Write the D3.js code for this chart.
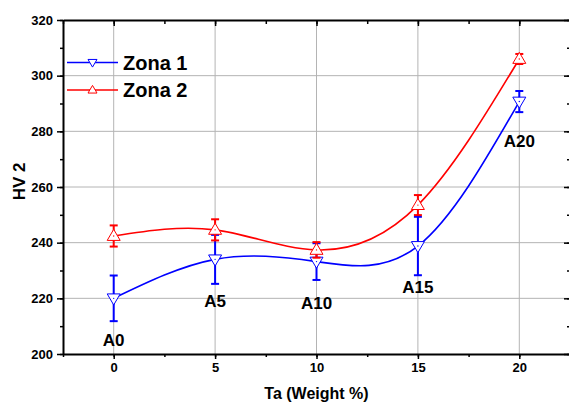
<!DOCTYPE html>
<html>
<head>
<meta charset="utf-8">
<script src="https://cdn.jsdelivr.net/npm/d3@7"></script>
<style>
  body { margin: 0; background: #fff; }
  text { font-family: "Liberation Sans", Arial, sans-serif; font-weight: bold; }
  .grid line { stroke: #b4b4b4; stroke-width: 1; }
  .axis path, .axis line { stroke: #000; }
  .axis path { stroke-width: 2; }
</style>
</head>
<body>
<div id="chart"></div>
<script>
// data
var taWeight = [0, 5, 10, 15, 20];
var sampleLabels = ["A0", "A5", "A10", "A15", "A20"];
var zona1 = [220.0, 234.0, 233.2, 238.8, 290.7];
var zona1Err = [8.2, 8.8, 6.6, 10.5, 3.8];
var zona2 = [242.4, 244.6, 237.4, 253.5, 306.0];
var zona2Err = [3.8, 3.8, 2.8, 3.6, 1.8];
var labelY = [203.0, 217.0, 216.0, 222.0, 274.2]; // value position of sample labels (baseline)
var xTicks = [0, 5, 10, 15, 20];
var yTicks = [200, 220, 240, 260, 280, 300, 320];

var outerWidth = 569, outerHeight = 403;
var margin = {top: 20, right: -1, bottom: 49, left: 63},
    width = outerWidth - margin.left - margin.right,
    height = outerHeight - margin.top - margin.bottom;

var svg = d3.select("#chart").append("svg")
    .attr("width", outerWidth)
    .attr("height", outerHeight)
    .append("g")
    .attr("transform", "translate(" + margin.left + "," + margin.top + ")");

var xScale = d3.scaleLinear().domain([-2.5, 22.5]).range([0, width]);
var yScale = d3.scaleLinear().domain([200, 320]).range([height, 0]);

var minorX = d3.range(-2.5, 22.6, 2.5);
var minorY = d3.range(200, 321, 10);

// grid
svg.append("g").attr("class", "grid")
    .selectAll("line").data(xTicks).enter().append("line")
    .attr("x1", d => xScale(d)).attr("x2", d => xScale(d))
    .attr("y1", 0).attr("y2", height);
svg.append("g").attr("class", "grid")
    .selectAll("line").data(yTicks.slice(1, -1)).enter().append("line")
    .attr("x1", 0).attr("x2", width)
    .attr("y1", d => yScale(d)).attr("y2", d => yScale(d));

// minor ticks (no labels)
function minorAxis(axis, vals, size, transform) {
    svg.append("g").attr("class", "axis")
        .attr("transform", transform)
        .call(axis.tickValues(vals).tickSize(size).tickFormat(""))
        .call(g => g.select(".domain").remove());
}
minorAxis(d3.axisBottom(xScale), minorX, 3, "translate(0," + height + ")");
minorAxis(d3.axisTop(xScale), minorX, -4, "translate(0,0)");
minorAxis(d3.axisLeft(yScale), minorY, 3, "translate(0,0)");
minorAxis(d3.axisRight(yScale), minorY, -3, "translate(" + width + ",0)");

// major axes
svg.append("g").attr("class", "axis")
    .attr("transform", "translate(0," + height + ")")
    .call(d3.axisBottom(xScale).tickValues(xTicks).tickSize(5).tickSizeOuter(0).tickPadding(4));
svg.append("g").attr("class", "axis")
    .call(d3.axisTop(xScale).tickValues(xTicks).tickSize(-6).tickSizeOuter(0).tickFormat(""));
svg.append("g").attr("class", "axis")
    .call(d3.axisLeft(yScale).tickValues(yTicks).tickSize(6).tickSizeOuter(0).tickPadding(4));
svg.append("g").attr("class", "axis")
    .attr("transform", "translate(" + width + ",0)")
    .call(d3.axisRight(yScale).tickValues(yTicks).tickSize(-6).tickSizeOuter(0).tickFormat(""));

svg.selectAll(".axis .tick line").attr("stroke-width", 1.5);
svg.selectAll(".axis text")
    .attr("fill", "#000")
    .style("font-size", "13px")
    .style("font-weight", "bold");

// axis titles
svg.append("text")
    .attr("x", xScale(10)).attr("y", height + 45)
    .attr("text-anchor", "middle")
    .style("font-size", "16px")
    .text("Ta (Weight %)");
svg.append("text")
    .attr("transform", "translate(" + (25 - margin.left) + "," + yScale(262) + ") rotate(-90)")
    .attr("text-anchor", "middle")
    .style("font-size", "17px")
    .text("HV 2");

var series = [
    {name: "Zona 1", color: "#0000ff", vals: zona1, err: zona1Err, up: false},
    {name: "Zona 2", color: "#ff0000", vals: zona2, err: zona2Err, up: true}
];

var line = d3.line()
    .x(d => xScale(d[0]))
    .y(d => yScale(d[1]))
    .curve(d3.curveNatural);

function triangle(up, s) {
    var h = s * 0.85;
    if (up) return "M0," + (-h * 0.6) + "L" + (s / 2) + "," + (h * 0.4) + "L" + (-s / 2) + "," + (h * 0.4) + "Z";
    return "M0," + (h * 0.6) + "L" + (s / 2) + "," + (-h * 0.4) + "L" + (-s / 2) + "," + (-h * 0.4) + "Z";
}

series.forEach(function(s) {
    var pts = taWeight.map((x, i) => [x, s.vals[i], s.err[i]]);
    var g = svg.append("g");

    g.append("path")
        .datum(pts)
        .attr("fill", "none")
        .attr("stroke", s.color)
        .attr("stroke-width", 1.6)
        .attr("d", line);

    // error bars
    var eb = g.selectAll(".eb").data(pts).enter().append("g");
    eb.append("line")
        .attr("x1", d => xScale(d[0])).attr("x2", d => xScale(d[0]))
        .attr("y1", d => yScale(d[1] - d[2])).attr("y2", d => yScale(d[1] + d[2]))
        .attr("stroke", s.color).attr("stroke-width", 2);
    [-1, 1].forEach(function(sign) {
        eb.append("line")
            .attr("x1", d => xScale(d[0]) - 4).attr("x2", d => xScale(d[0]) + 4)
            .attr("y1", d => yScale(d[1] + sign * d[2])).attr("y2", d => yScale(d[1] + sign * d[2]))
            .attr("stroke", s.color).attr("stroke-width", 2);
    });

    // markers
    var mk = g.selectAll(".mk").data(pts).enter().append("g")
        .attr("transform", d => "translate(" + xScale(d[0]) + "," + yScale(d[1]) + ")");
    mk.append("path")
        .attr("d", triangle(s.up, 13))
        .attr("fill", "#fff")
        .attr("stroke", s.color)
        .attr("stroke-width", 1);
    mk.append("circle").attr("r", 0.7).attr("fill", s.color);
});

// sample labels
svg.selectAll(".sample").data(sampleLabels).enter().append("text")
    .attr("x", (d, i) => xScale(taWeight[i]))
    .attr("y", (d, i) => yScale(labelY[i]))
    .attr("text-anchor", "middle")
    .style("font-size", "17px")
    .text(d => d);

// legend
var legend = svg.selectAll(".legend").data(series).enter().append("g")
    .attr("transform", (d, i) => "translate(4," + (42.5 + i * 27.5) + ")");
legend.append("line")
    .attr("x1", 0).attr("x2", 51)
    .attr("stroke", d => d.color).attr("stroke-width", 1.6);
legend.append("path")
    .attr("transform", "translate(25.5,0)")
    .attr("d", d => triangle(d.up, 9))
    .attr("fill", "#fff")
    .attr("stroke", d => d.color)
    .attr("stroke-width", 1);
legend.append("text")
    .attr("x", 56).attr("y", 7)
    .style("font-size", "20px")
    .text(d => d.name);
</script>
</body>
</html>
